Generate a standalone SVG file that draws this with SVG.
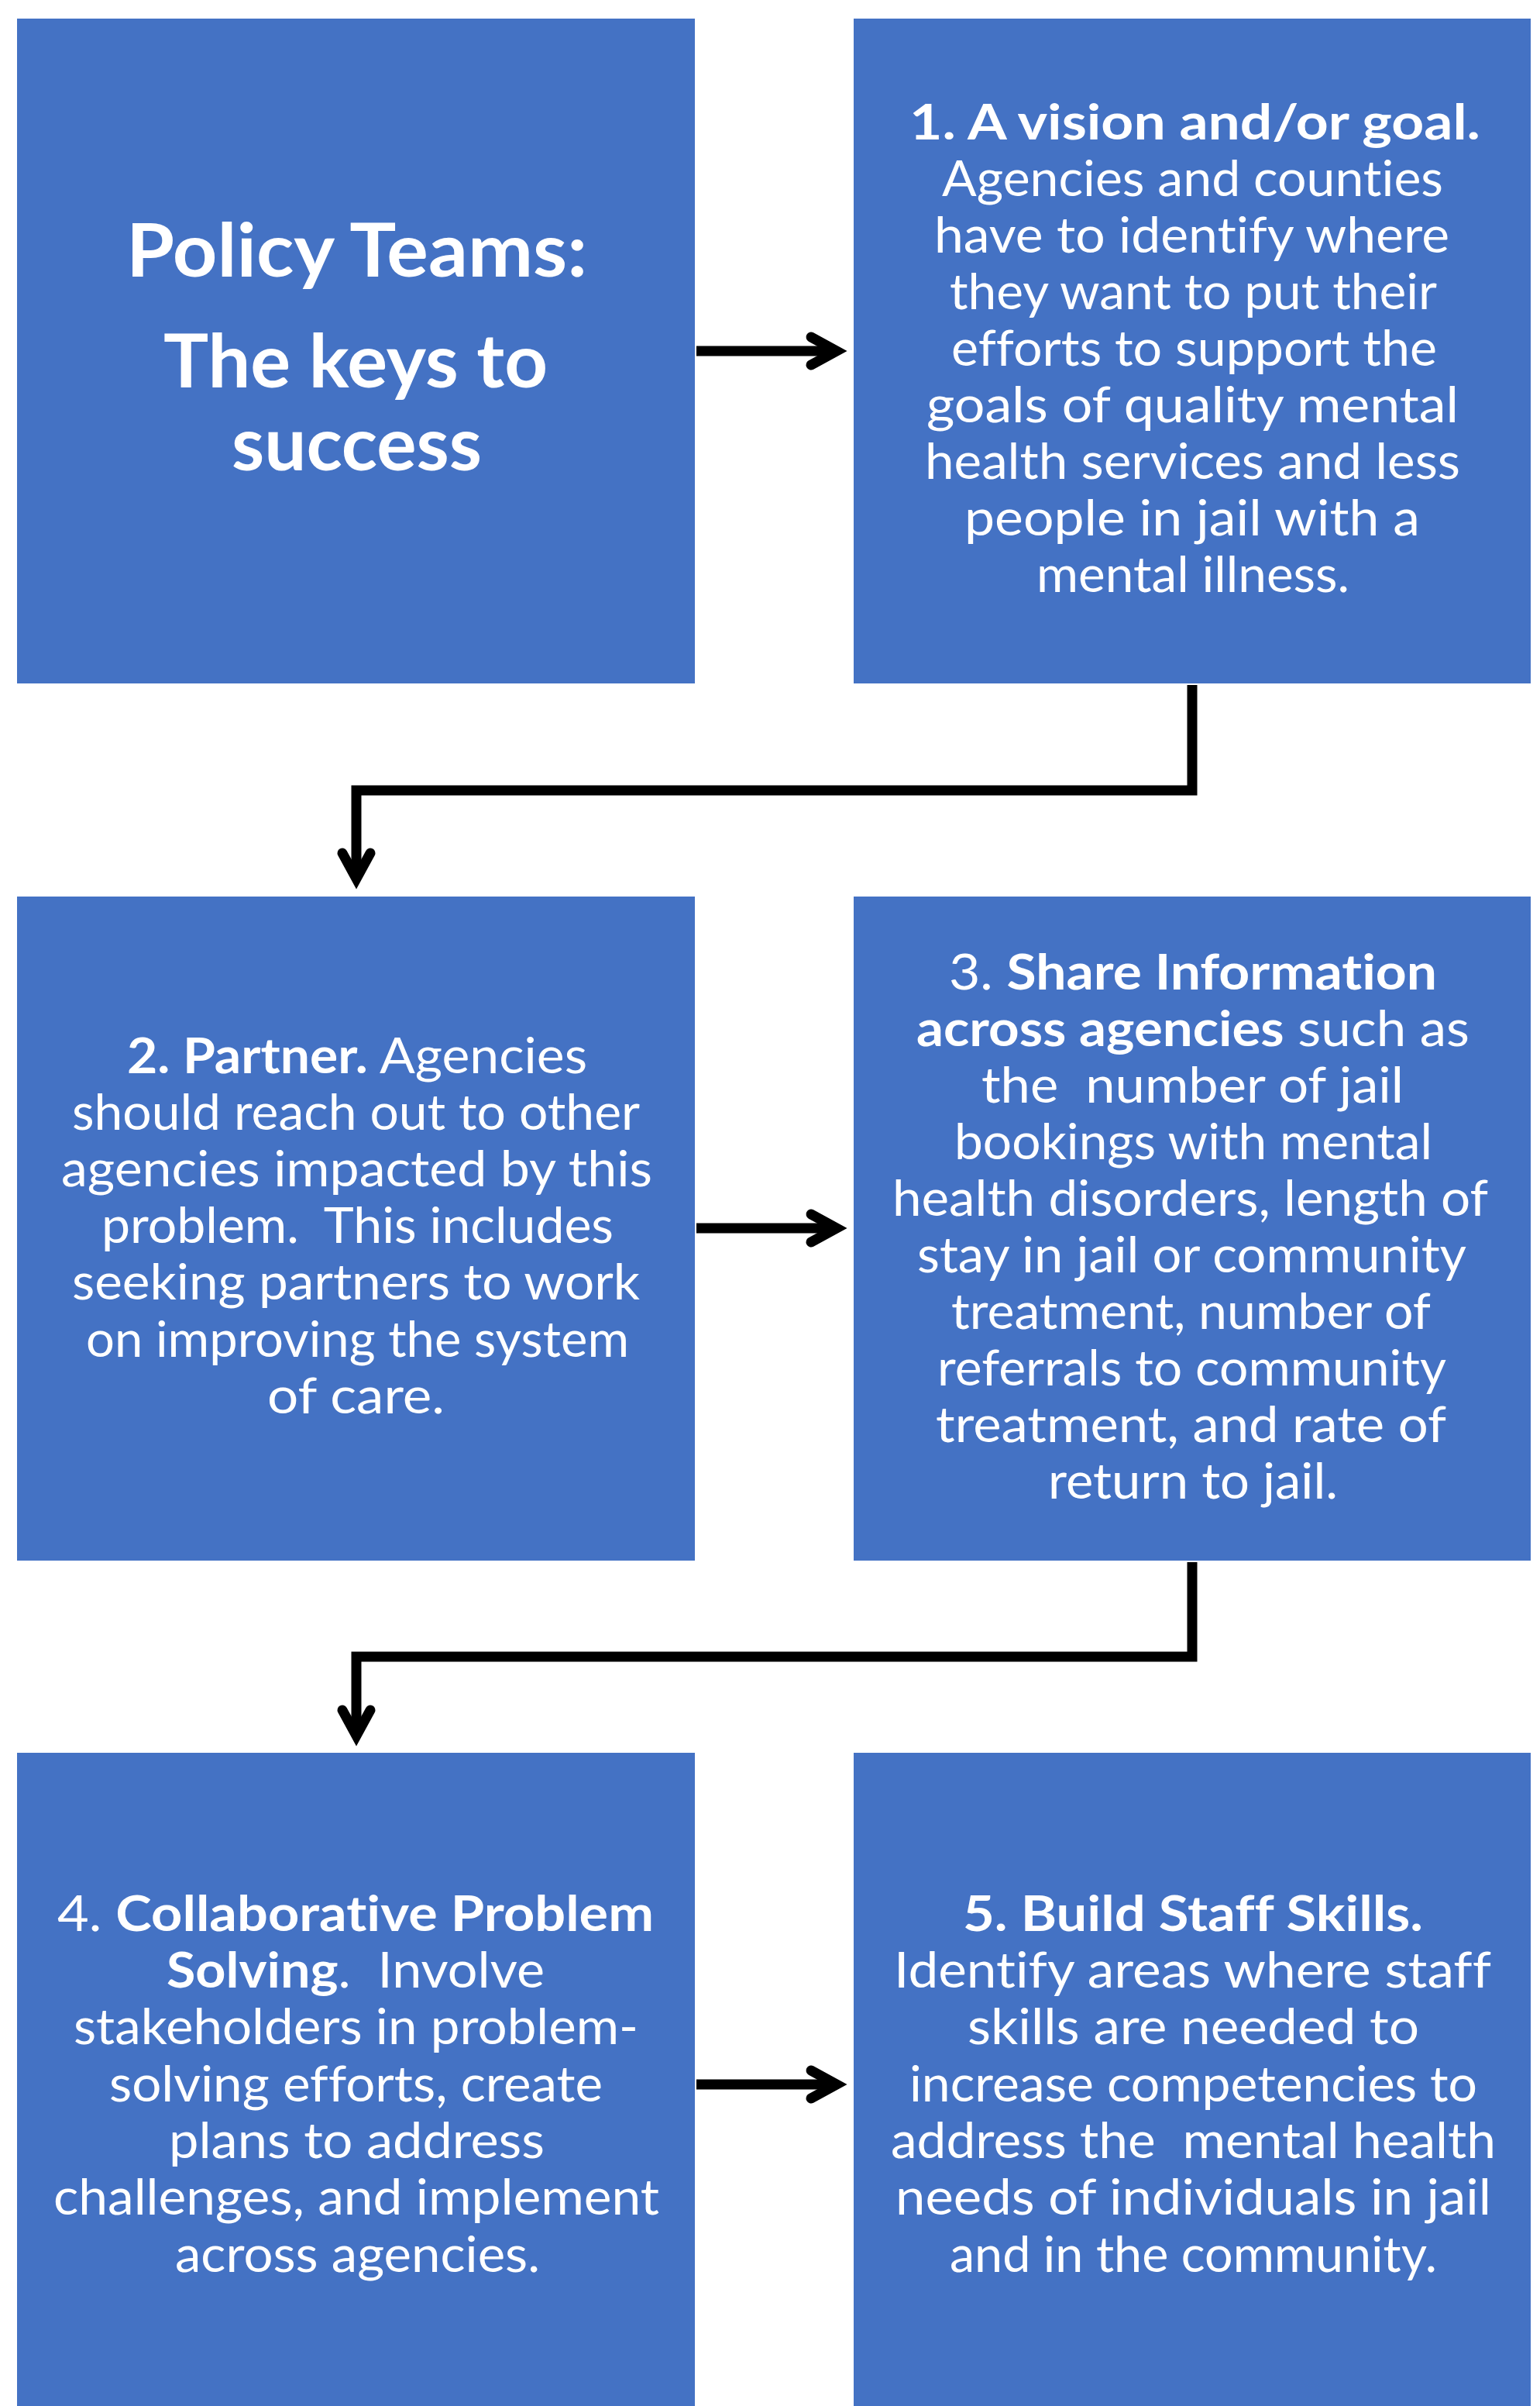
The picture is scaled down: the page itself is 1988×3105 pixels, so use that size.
<svg xmlns="http://www.w3.org/2000/svg" width="1988" height="3105" viewBox="0 0 1988 3105">
<style>
.box{fill:#4472C4}
.t{font-family:Lato,"Liberation Sans",sans-serif;font-size:64px;fill:#fff;font-variant-ligatures:none;font-feature-settings:"liga" 0,"clig" 0}
.b{font-weight:700}
.title{font-size:96px;font-weight:700}
.conn{fill:none;stroke:#000;stroke-width:13;stroke-linejoin:miter}
</style>
<defs>
<marker id="chev" markerUnits="userSpaceOnUse" markerWidth="100" markerHeight="100" viewBox="-50 -50 100 100" refX="0" refY="0" orient="auto" overflow="visible">
<path d="M-33,-18 L0,0 L-33,18" fill="none" stroke="#000" stroke-width="13" stroke-linecap="round" stroke-linejoin="miter"/>
</marker>
</defs>
<rect width="1988" height="3105" fill="#fff"/>

<g id="connectors">
<path class="conn" d="M899,453 H1080" marker-end="url(#chev)"/>
<path class="conn" d="M1539,884 V1020 H460 V1134" marker-end="url(#chev)"/>
<path class="conn" d="M899,1585 H1080" marker-end="url(#chev)"/>
<path class="conn" d="M1539,2016 V2138 H460 V2240" marker-end="url(#chev)"/>
<path class="conn" d="M899,2690 H1080" marker-end="url(#chev)"/>
</g>

<g id="node-title">
<rect class="box" x="22" y="24" width="875" height="858"/>
<text class="t title" x="163" y="357" textLength="595" lengthAdjust="spacingAndGlyphs">Policy Teams:</text>
<text class="t title" x="211" y="500" textLength="496" lengthAdjust="spacingAndGlyphs">The keys to</text>
<text class="t title" x="299" y="607" textLength="323" lengthAdjust="spacingAndGlyphs">success</text>
</g>

<g id="node-vision">
<rect class="box" x="1102" y="24" width="874" height="858"/>
<text class="t b" x="1174" y="180" textLength="737" lengthAdjust="spacingAndGlyphs">1. A vision and/or goal.</text>
<text class="t" x="1216" y="253" textLength="647" lengthAdjust="spacingAndGlyphs">Agencies and counties</text>
<text class="t" x="1206" y="326" textLength="665" lengthAdjust="spacingAndGlyphs">have to identify where</text>
<text class="t" x="1226" y="399" textLength="629" lengthAdjust="spacingAndGlyphs">they want to put their</text>
<text class="t" x="1228" y="472" textLength="627" lengthAdjust="spacingAndGlyphs">efforts to support the</text>
<text class="t" x="1196" y="545" textLength="687" lengthAdjust="spacingAndGlyphs">goals of quality mental</text>
<text class="t" x="1194" y="618" textLength="691" lengthAdjust="spacingAndGlyphs">health services and less</text>
<text class="t" x="1245" y="691" textLength="588" lengthAdjust="spacingAndGlyphs">people in jail with a</text>
<text class="t" x="1338" y="764" textLength="404" lengthAdjust="spacingAndGlyphs">mental illness.</text>
</g>

<g id="node-partner">
<rect class="box" x="22" y="1157" width="875" height="857"/>
<text class="t" x="164" y="1385" textLength="594" lengthAdjust="spacingAndGlyphs"><tspan class="b">2. Partner.</tspan> Agencies</text>
<text class="t" x="93" y="1458" textLength="733" lengthAdjust="spacingAndGlyphs">should reach out to other</text>
<text class="t" x="79" y="1531" textLength="763" lengthAdjust="spacingAndGlyphs">agencies impacted by this</text>
<text class="t" x="131" y="1604" textLength="661" lengthAdjust="spacingAndGlyphs" xml:space="preserve">problem.  This includes</text>
<text class="t" x="93" y="1677" textLength="733" lengthAdjust="spacingAndGlyphs">seeking partners to work</text>
<text class="t" x="111" y="1751" textLength="701" lengthAdjust="spacingAndGlyphs">on improving the system</text>
<text class="t" x="345" y="1824" textLength="229" lengthAdjust="spacingAndGlyphs">of care.</text>
</g>

<g id="node-share">
<rect class="box" x="1102" y="1157" width="874" height="857"/>
<text class="t" x="1225" y="1277" textLength="630" lengthAdjust="spacingAndGlyphs">3. <tspan class="b">Share Information</tspan></text>
<text class="t" x="1183" y="1350" textLength="714" lengthAdjust="spacingAndGlyphs"><tspan class="b">across agencies</tspan> such as</text>
<text class="t" x="1267" y="1423" textLength="545" lengthAdjust="spacingAndGlyphs" xml:space="preserve">the  number of jail</text>
<text class="t" x="1232" y="1496" textLength="617" lengthAdjust="spacingAndGlyphs">bookings with mental</text>
<text class="t" x="1152" y="1569" textLength="769" lengthAdjust="spacingAndGlyphs">health disorders, length of</text>
<text class="t" x="1184" y="1642" textLength="709" lengthAdjust="spacingAndGlyphs">stay in jail or community</text>
<text class="t" x="1228" y="1715" textLength="619" lengthAdjust="spacingAndGlyphs">treatment, number of</text>
<text class="t" x="1210" y="1788" textLength="657" lengthAdjust="spacingAndGlyphs">referrals to community</text>
<text class="t" x="1208" y="1861" textLength="659" lengthAdjust="spacingAndGlyphs">treatment, and rate of</text>
<text class="t" x="1353" y="1934" textLength="374" lengthAdjust="spacingAndGlyphs">return to jail.</text>
</g>

<g id="node-collab">
<rect class="box" x="22" y="2262" width="875" height="843"/>
<text class="t" x="74" y="2492" textLength="770" lengthAdjust="spacingAndGlyphs">4. <tspan class="b">Collaborative Problem</tspan></text>
<text class="t" x="215" y="2565" textLength="488" lengthAdjust="spacingAndGlyphs" xml:space="preserve"><tspan class="b">Solving</tspan>.  Involve</text>
<text class="t" x="95" y="2638" textLength="729" lengthAdjust="spacingAndGlyphs">stakeholders in problem-</text>
<text class="t" x="141" y="2712" textLength="637" lengthAdjust="spacingAndGlyphs">solving efforts, create</text>
<text class="t" x="218" y="2785" textLength="485" lengthAdjust="spacingAndGlyphs">plans to address</text>
<text class="t" x="69" y="2858" textLength="782" lengthAdjust="spacingAndGlyphs">challenges, and implement</text>
<text class="t" x="226" y="2932" textLength="471" lengthAdjust="spacingAndGlyphs">across agencies.</text>
</g>

<g id="node-skills">
<rect class="box" x="1102" y="2262" width="874" height="843"/>
<text class="t b" x="1243" y="2492" textLength="594" lengthAdjust="spacingAndGlyphs">5. Build Staff Skills.</text>
<text class="t" x="1154" y="2565" textLength="771" lengthAdjust="spacingAndGlyphs">Identify areas where staff</text>
<text class="t" x="1249" y="2638" textLength="583" lengthAdjust="spacingAndGlyphs">skills are needed to</text>
<text class="t" x="1174" y="2712" textLength="733" lengthAdjust="spacingAndGlyphs">increase competencies to</text>
<text class="t" x="1150" y="2785" textLength="781" lengthAdjust="spacingAndGlyphs" xml:space="preserve">address the  mental health</text>
<text class="t" x="1156" y="2858" textLength="769" lengthAdjust="spacingAndGlyphs">needs of individuals in jail</text>
<text class="t" x="1226" y="2932" textLength="629" lengthAdjust="spacingAndGlyphs">and in the community.</text>
</g>
</svg>
